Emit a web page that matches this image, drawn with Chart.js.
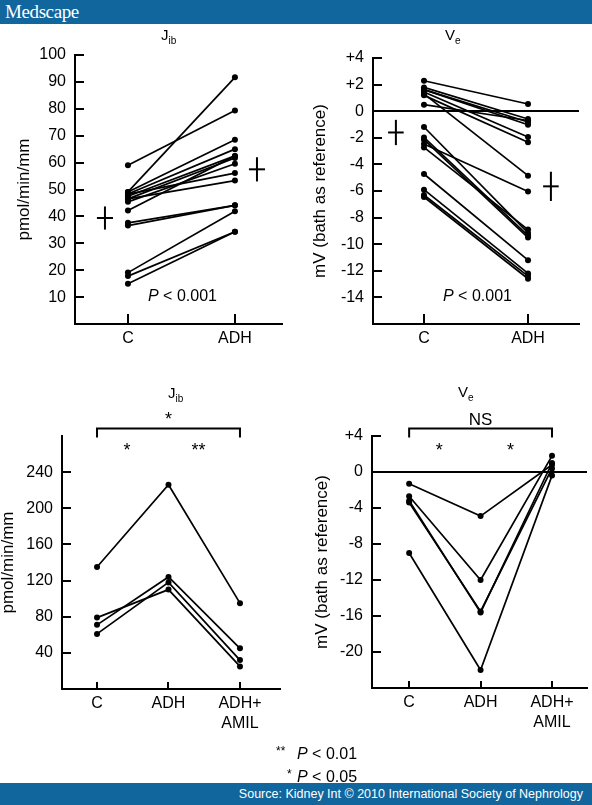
<!DOCTYPE html>
<html>
<head>
<meta charset="utf-8">
<script src="https://cdn.jsdelivr.net/npm/chart.js@4.4.0/dist/chart.umd.min.js"></script>
<style>
body { margin: 0; background: #fff; font-family: "Liberation Sans", Arial, sans-serif; }
#page { position: relative; width: 592px; height: 805px; overflow: hidden; background: #fff; }
canvas { position: absolute; }
.bar { position: absolute; left: 0; width: 592px; background: #11669e; color: #fff; }
.txt { position: absolute; color: #000; white-space: nowrap; }
.ttl { font-size: 15px; line-height: 15px; }
.ttl sub { font-size: 10px; vertical-align: -4px; line-height: 0; }
.pv { font-size: 16px; line-height: 16px; }
</style>
</head>
<body>
<div id="page">
  <div class="bar" style="top:0;height:24px;">
    <span style="position:absolute;left:5px;top:1px;font-family:'Liberation Serif','Times New Roman',serif;font-size:19px;letter-spacing:-0.4px;">Medscape</span>
  </div>

  <canvas id="jibTop" width="296" height="335" style="left:0;top:25px;"></canvas>
  <canvas id="veTop" width="296" height="335" style="left:296px;top:25px;"></canvas>
  <canvas id="jibBottom" width="296" height="385" style="left:0;top:360px;"></canvas>
  <canvas id="veBottom" width="296" height="385" style="left:296px;top:360px;"></canvas>

  <div class="txt ttl" style="left:161px;top:27px;">J<sub>ib</sub></div>
  <div class="txt ttl" style="left:445px;top:27px;">V<sub>e</sub></div>
  <div class="txt ttl" style="left:168px;top:385px;">J<sub>ib</sub></div>
  <div class="txt ttl" style="left:458px;top:384px;">V<sub>e</sub></div>

  <div class="txt pv" style="left:148px;top:288px;"><i>P</i> &lt; 0.001</div>
  <div class="txt pv" style="left:443px;top:288px;"><i>P</i> &lt; 0.001</div>

  <div class="txt" style="left:276px;top:744px;font-size:12px;">**</div>
  <div class="txt pv" style="left:297px;top:746px;"><i>P</i> &lt; 0.01</div>
  <div class="txt" style="left:287px;top:767px;font-size:12px;">*</div>
  <div class="txt pv" style="left:297px;top:769px;"><i>P</i> &lt; 0.05</div>

  <div class="bar" style="top:783px;height:22px;">
    <span style="position:absolute;right:9px;top:4px;font-size:12.5px;">Source: Kidney Int © 2010 International Society of Nephrology</span>
  </div>
</div>

<script>
const categoriesTop = ['C', 'ADH'];
const categoriesBottom = ['C', 'ADH', ['ADH+', 'AMIL']];

// Jib (pmol/min/mm), control vs ADH, one entry per tubule
const jibControl = [59, 49.1, 49.1, 48.3, 47.5, 46.5, 45.4, 48.3, 46.5, 42.2, 37.6, 36.6, 19.1, 17.8, 15];
const jibAdh = [79.4, 91.7, 68.5, 65, 62.5, 61.7, 59.6, 56.1, 53.3, 62.5, 44.1, 44.1, 41.9, 34.3, 34.3];
const jibMean = [39.4, 57.5];
const jibSem = [4.3, 4.5];
const jibTicks = [10, 20, 30, 40, 50, 60, 70, 80, 90, 100];
const jibTickLabels = ['10', '20', '30', '40', '50', '60', '70', '80', '90', '100'];

// Ve (mV, bath as reference), control vs ADH
const veControl = [2.29, 1.79, 1.62, 1.62, 1.44, 1.19, 1.3, 0.49, -1.19, -1.97, -2.14, -2.47, -2.72, -4.72, -5.9, -6.45, -6.3];
const veAdh = [0.54, -0.59, -0.81, -1.02, -1.94, -2.34, -4.85, -0.7, -9.15, -9.35, -9.5, -6.03, -8.9, -11.2, -12.2, -12.6, -12.4];
const veMean = [-1.6, -5.65];
const veSem = [0.95, 1.1];
const veTicks = [-14, -12, -10, -8, -6, -4, -2, 0, 2, 4];
const veTickLabels = ['-14', '-12', '-10', '-8', '-6', '-4', '-2', '0', '+2', '+4'];

// Jib with amiloride
const jib2Control = [135, 79, 71, 61];
const jib2Adh = [226, 110, 124, 118];
const jib2Amil = [95, 25, 45, 32];
const jib2Ticks = [40, 80, 120, 160, 200, 240];
const jib2TickLabels = ['40', '80', '120', '160', '200', '240'];

// Ve with amiloride
const ve2Control = [-1.3, -2.7, -3.2, -3.4, -9.0];
const ve2Adh = [-4.9, -12.0, -15.6, -15.5, -22.0];
const ve2Amil = [0.8, 1.8, 1.0, 0.4, -0.4];
const ve2Ticks = [-20, -16, -12, -8, -4, 0, 4];
const ve2TickLabels = ['-20', '-16', '-12', '-8', '-4', '0', '+4'];

Chart.defaults.font.family = '"Liberation Sans", Arial, sans-serif';
Chart.defaults.color = '#000';

// tick marks pointing into the plot, like the original figure
const innerTicks = {
    id: 'innerTicks',
    afterDatasetsDraw(chart) {
        const { ctx, chartArea, scales } = chart;
        ctx.save();
        ctx.strokeStyle = '#000';
        ctx.lineWidth = 2;
        scales.y.ticks.forEach(t => {
            const py = Math.round(scales.y.getPixelForValue(t.value));
            ctx.beginPath();
            ctx.moveTo(chartArea.left, py);
            ctx.lineTo(chartArea.left + 9, py);
            ctx.stroke();
        });
        const len = scales.x.ticks.length > 2 ? 7 : 10;
        scales.x.ticks.forEach(t => {
            const px = Math.round(scales.x.getPixelForValue(t.value));
            ctx.beginPath();
            ctx.moveTo(px, chartArea.bottom);
            ctx.lineTo(px, chartArea.bottom - len);
            ctx.stroke();
        });
        ctx.restore();
    }
};

// significance bracket above the three-group panels
const brackets = {
    id: 'brackets',
    afterDraw(chart, args, opts) {
        if (!opts || !opts.overall) return;
        const { ctx, chartArea, scales: { x } } = chart;
        const x1 = x.getPixelForValue(1);
        const x2 = x.getPixelForValue(3);
        const y = chartArea.top - 7.5;
        ctx.save();
        ctx.strokeStyle = '#000';
        ctx.lineWidth = 2;
        ctx.beginPath();
        ctx.moveTo(x1, y + 9);
        ctx.lineTo(x1, y);
        ctx.lineTo(x2, y);
        ctx.lineTo(x2, y + 9);
        ctx.stroke();
        ctx.fillStyle = '#000';
        ctx.textAlign = 'center';
        ctx.textBaseline = 'alphabetic';
        ctx.font = opts.overall === '*' ? '18px "Liberation Sans", Arial' : '17px "Liberation Sans", Arial';
        ctx.fillText(opts.overall, (x1 + x2) / 2, y - 4);
        ctx.font = '18px "Liberation Sans", Arial';
        opts.pairs.forEach((s, k) => {
            ctx.fillText(s, x.getPixelForValue(k + 1.42), y + 27);
        });
        ctx.restore();
    }
};

function buildPanel(id, cfg) {
    const datasets = [];
    cfg.series[0].forEach((_, i) => {
        datasets.push({
            data: cfg.series.map((s, k) => ({ x: k + 1, y: s[i] })),
            borderColor: '#000',
            borderWidth: 1.7,
            pointRadius: 3,
            pointBackgroundColor: '#000',
            pointBorderWidth: 0
        });
    });
    if (cfg.mean) {
        cfg.mean.forEach((m, k) => {
            const cx = k + 1 + cfg.meanOffset[k];
            const line = { borderColor: '#000', borderWidth: 2, pointRadius: 0 };
            datasets.push({ ...line, data: [{ x: cx - 0.075, y: m }, { x: cx + 0.075, y: m }] });
            datasets.push({ ...line, data: [{ x: cx, y: m - cfg.sem[k] }, { x: cx, y: m + cfg.sem[k] }] });
        });
    }

    new Chart(document.getElementById(id), {
        type: 'line',
        data: { datasets },
        plugins: [innerTicks, brackets],
        options: {
            responsive: false,
            animation: false,
            layout: { padding: cfg.padding },
            plugins: {
                legend: { display: false },
                tooltip: { enabled: false },
                brackets: cfg.bracket || {}
            },
            scales: {
                x: {
                    type: 'linear',
                    min: cfg.xRange[0],
                    max: cfg.xRange[1],
                    afterBuildTicks: axis => { axis.ticks = cfg.categories.map((c, k) => ({ value: k + 1 })); },
                    afterFit: s => { s.height = cfg.xHeight; },
                    ticks: {
                        callback: v => cfg.categories[v - 1],
                        font: { size: 16, lineHeight: 1.25 },
                        color: '#000',
                        padding: 5,
                        maxRotation: 0,
                        autoSkip: false
                    },
                    grid: { drawOnChartArea: false, drawTicks: false, color: 'rgba(0,0,0,0)' },
                    border: { color: '#000', width: 2 }
                },
                y: {
                    type: 'linear',
                    min: cfg.yRange[0],
                    max: cfg.yRange[1],
                    afterBuildTicks: axis => { axis.ticks = cfg.ticks.map(v => ({ value: v })); },
                    afterFit: s => { s.width = cfg.yWidth; },
                    ticks: {
                        callback: (v, i) => cfg.tickLabels[i],
                        font: { size: 16 },
                        color: '#000',
                        padding: 9,
                        autoSkip: false
                    },
                    grid: {
                        drawTicks: false,
                        lineWidth: 2,
                        color: ctx => (cfg.zeroLine && ctx.tick && ctx.tick.value === 0) ? '#000' : 'rgba(0,0,0,0)'
                    },
                    border: { color: '#000', width: 2 },
                    title: {
                        display: true,
                        text: cfg.yTitle,
                        font: { size: 17, lineHeight: 1 },
                        color: '#000',
                        padding: { top: cfg.titlePad, bottom: 0 }
                    }
                }
            }
        }
    });
}

buildPanel('jibTop', {
    series: [jibControl, jibAdh],
    categories: categoriesTop,
    mean: jibMean, sem: jibSem, meanOffset: [-0.215, 0.206],
    ticks: jibTicks, tickLabels: jibTickLabels,
    yRange: [0, 100], xRange: [0.505, 2.44],
    padding: { top: 30, right: 14, left: 0, bottom: 0 },
    yWidth: 75, xHeight: 36, titlePad: 16,
    yTitle: 'pmol/min/mm'
});

buildPanel('veTop', {
    series: [veControl, veAdh],
    categories: categoriesTop,
    mean: veMean, sem: veSem, meanOffset: [-0.27, 0.22],
    ticks: veTicks, tickLabels: veTickLabels,
    yRange: [-16, 4], xRange: [0.51, 2.49],
    padding: { top: 33, right: 13, left: 0, bottom: 0 },
    yWidth: 77, xHeight: 36, titlePad: 16, zeroLine: true,
    yTitle: 'mV (bath as reference)'
});

buildPanel('jibBottom', {
    series: [jib2Control, jib2Adh, jib2Amil],
    categories: categoriesBottom,
    ticks: jib2Ticks, tickLabels: jib2TickLabels,
    yRange: [0, 280], xRange: [0.51, 3.56],
    padding: { top: 76, right: 16, left: 0, bottom: 0 },
    yWidth: 62, xHeight: 56, titlePad: 0,
    bracket: { overall: '*', pairs: ['*', '**'] },
    yTitle: 'pmol/min/mm'
});

buildPanel('veBottom', {
    series: [ve2Control, ve2Adh, ve2Amil],
    categories: categoriesBottom,
    ticks: ve2Ticks, tickLabels: ve2TickLabels,
    yRange: [-24, 4], xRange: [0.48, 3.49],
    padding: { top: 76, right: 5, left: 0, bottom: 0 },
    yWidth: 76, xHeight: 57, titlePad: 18, zeroLine: true,
    bracket: { overall: 'NS', pairs: ['*', '*'] },
    yTitle: 'mV (bath as reference)'
});
</script>
</body>
</html>
